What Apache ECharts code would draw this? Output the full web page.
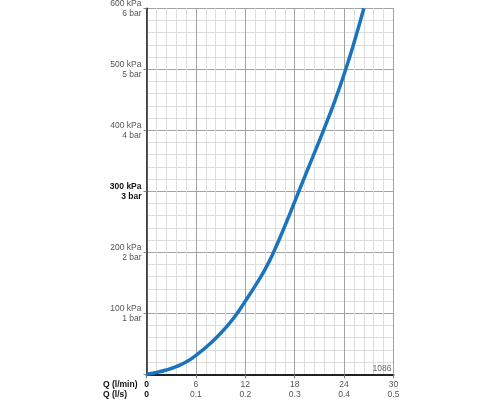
<!DOCTYPE html>
<html>
<head>
<meta charset="utf-8">
<script src="https://cdn.jsdelivr.net/npm/echarts@6/dist/echarts.min.js"></script>
<style>
html,body{margin:0;padding:0;background:#fff;}
#c{width:500px;height:400px;}
</style>
</head>
<body>
<div id="c"></div>
<script>
// Flow Q (l/min) and pressure (kPa)
const flowLmin = [0, 1.2, 2.4, 3.6, 4.8, 6, 7.2, 8.4, 9.6, 10.8, 12, 13.2, 14.4, 15.3, 16.8, 18.5, 20, 21.5, 22.9, 24.2, 25.3, 26.4];
const pressureKPa = [0, 3, 7, 12.5, 20, 31, 44, 59, 76, 96, 120, 145, 172, 196, 243, 300, 350, 400, 449, 500, 548, 600];

// Tick labels
const xTicksLmin = ['0', '6', '12', '18', '24', '30'];
const xTicksLs = ['0', '0.1', '0.2', '0.3', '0.4', '0.5'];
const yTicksKPa = ['', '100 kPa', '200 kPa', '300 kPa', '400 kPa', '500 kPa', '600 kPa'];
const yTicksBar = ['', '1 bar', '2 bar', '3 bar', '4 bar', '5 bar', '6 bar'];
const boldYIndex = 3;

const FONT = '"Liberation Sans", Arial, sans-serif';
const FS = 8.5;

const chart = echarts.init(document.getElementById('c'), null, {renderer: 'canvas'});
chart.setOption({
  animation: false,
  backgroundColor: '#fff',
  grid: {left: 146.5, right: 106.5, top: 8.3, bottom: 25.7, containLabel: false, outerBoundsMode: 'none'},
  xAxis: {
    type: 'value', min: 0, max: 30, interval: 6,
    axisLine: {show: true, onZero: false, lineStyle: {color: '#222', width: 2}},
    axisTick: {show: true, length: 4, lineStyle: {color: '#777', width: 1}},
    minorTick: {show: false, splitNumber: 5},
    splitLine: {show: true, lineStyle: {color: '#a3a3a3', width: 1}},
    minorSplitLine: {show: true, lineStyle: {color: '#dedede', width: 1}},
    axisLabel: {
      margin: 6,
      fontFamily: FONT,
      formatter: function (v) {
        const i = Math.round(v / 6);
        if (i === 0) return '{b|' + xTicksLmin[i] + '}\n{b|' + xTicksLs[i] + '}';
        return '{a|' + xTicksLmin[i] + '}\n{a|' + xTicksLs[i] + '}';
      },
      rich: {
        a: {fontSize: FS, color: '#555', lineHeight: 9.5, fontFamily: FONT},
        b: {fontSize: FS, color: '#111', fontWeight: 'bold', lineHeight: 9.5, fontFamily: FONT}
      }
    }
  },
  yAxis: {
    type: 'value', min: 0, max: 600, interval: 100,
    axisLine: {show: true, onZero: false, lineStyle: {color: '#222', width: 1.5}},
    axisTick: {show: true, length: 3, lineStyle: {color: '#888', width: 1}},
    minorTick: {show: false, splitNumber: 5},
    splitLine: {show: true, lineStyle: {color: '#a3a3a3', width: 1}},
    minorSplitLine: {show: true, lineStyle: {color: '#dedede', width: 1}},
    axisLabel: {
      margin: 5,
      align: 'right',
      fontFamily: FONT,
      formatter: function (v) {
        const i = Math.round(v / 100);
        if (!yTicksKPa[i]) return '';
        const s = i === boldYIndex ? 'b' : 'a';
        return '{' + s + '|' + yTicksKPa[i] + '}\n{' + s + '|' + yTicksBar[i] + '}';
      },
      rich: {
        a: {fontSize: FS, color: '#555', lineHeight: 10, align: 'right', fontFamily: FONT},
        b: {fontSize: FS, color: '#111', fontWeight: 'bold', lineHeight: 10, align: 'right', fontFamily: FONT}
      }
    }
  },
  graphic: [
    {type: 'text', x: 103, y: 385, z: 100, style: {text: 'Q (l/min)', font: 'bold ' + FS + 'px ' + FONT, fill: '#111', verticalAlign: 'middle', align: 'left'}},
    {type: 'text', x: 103, y: 394.5, z: 100, style: {text: 'Q (l/s)', font: 'bold ' + FS + 'px ' + FONT, fill: '#111', verticalAlign: 'middle', align: 'left'}},
    {type: 'text', x: 391.5, y: 369, z: 100, style: {text: '1086', font: FS + 'px ' + FONT, fill: '#666', verticalAlign: 'middle', align: 'right'}},
    {type: 'line', z: 1, shape: {x1: 393.5, y1: 8.3, x2: 393.5, y2: 374.3}, style: {stroke: '#a3a3a3', lineWidth: 1}}
  ],
  series: [{
    type: 'line',
    data: flowLmin.map((q, i) => [q, pressureKPa[i]]),
    smooth: 0.5,
    showSymbol: false,
    clip: true,
    lineStyle: {color: '#1a74bd', width: 3.5}
  }]
});
</script>
</body>
</html>
